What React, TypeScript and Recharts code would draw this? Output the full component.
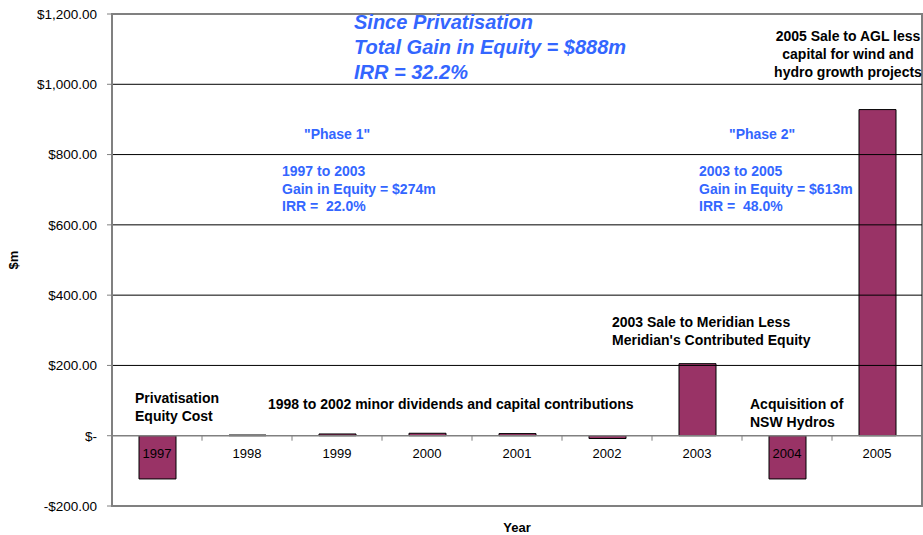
import { BarChart, Bar, XAxis, YAxis, ReferenceLine, ReferenceArea, ReferenceDot } from "recharts";

const years = ["1997", "1998", "1999", "2000", "2001", "2002", "2003", "2004", "2005"];
const equityFlows = [-123, 2, 5, 7, 6, -8, 205, -123, 928];
const yTicks = [-200, 0, 200, 400, 600, 800, 1000, 1200];
const gridValues = [200, 400, 600, 800, 1000];

const rows = years.map((year, i) => ({ year, value: equityFlows[i] }));

const BLUE = "#3366ff";
const FONT = "'Liberation Sans', Arial, sans-serif";

function asMoney(v: number) {
  if (v === 0) return "$-";
  const s = "$" + Math.abs(v).toLocaleString("en-US", { minimumFractionDigits: 2, maximumFractionDigits: 2 });
  return v < 0 ? "-" + s : s;
}

const note = (left: number, top: number, lines: string[], extra: React.CSSProperties = {}) => (
  <div
    style={{
      position: "absolute",
      left,
      top,
      fontFamily: FONT,
      fontWeight: 700,
      fontSize: 14,
      lineHeight: "18px",
      whiteSpace: "nowrap",
      color: "#000",
      ...extra,
    }}
  >
    {lines.map((l) => (
      <div key={l}>{l}</div>
    ))}
  </div>
);

export default function App() {
  return (
    <div style={{ position: "absolute", left: 0, top: 0, width: 923, height: 535, overflow: "hidden", background: "#fff" }}>
      <BarChart width={923} height={535} data={rows} margin={{ top: 14, right: 1, bottom: 29, left: 0 }} style={{ fontFamily: FONT }}>
        <XAxis dataKey="year" hide />
        <YAxis
          domain={[-200, 1200]}
          ticks={yTicks}
          interval={0}
          width={112}
          tickFormatter={asMoney}
          tick={{ fill: "#000", fontSize: 13.5 }}
          tickSize={5}
          tickMargin={10}
          axisLine={{ stroke: "#808080", strokeWidth: 2 }}
          tickLine={{ stroke: "#808080" }}
        />
        {gridValues.map((v) => (
          <ReferenceLine key={v} y={v} stroke="#000" strokeWidth={1} />
        ))}
        <ReferenceArea y1={-200} y2={1200} fill="none" stroke="#808080" strokeWidth={2} ifOverflow="visible" />
        <Bar dataKey="value" fill="#993366" stroke="#000" strokeWidth={1} barSize={37} isAnimationActive={false} />
        <ReferenceLine y={0} stroke="#808080" strokeWidth={1.5} />
        {years.map((year, i) => (
          <ReferenceDot
            key={year}
            x={year}
            y={0}
            r={0}
            shape={(p: any) => (
              <g>
                {i > 0 && <line x1={p.cx - 45} x2={p.cx - 45} y1={p.cy} y2={p.cy + 5} stroke="#808080" />}
                <text x={p.cx} y={p.cy + 22} textAnchor="middle" fontSize={13} fill="#000" fontFamily={FONT}>
                  {year}
                </text>
              </g>
            )}
          />
        ))}
      </BarChart>

      <div
        style={{
          position: "absolute",
          left: 14 - 20,
          top: 260 - 9,
          width: 40,
          textAlign: "center",
          transform: "rotate(-90deg)",
          fontFamily: FONT,
          fontWeight: 700,
          fontSize: 13,
          lineHeight: "18px",
        }}
      >
        $m
      </div>
      <div
        style={{
          position: "absolute",
          left: 517 - 50,
          top: 519,
          width: 100,
          textAlign: "center",
          fontFamily: FONT,
          fontWeight: 700,
          fontSize: 13,
          lineHeight: "18px",
        }}
      >
        Year
      </div>

      {note(354, 10, ["Since Privatisation", "Total Gain in Equity = $888m", "IRR = 32.2%"], {
        color: BLUE,
        fontStyle: "italic",
        fontSize: 20,
        lineHeight: "25px",
      })}
      {note(304, 125, ['"Phase 1"'], { color: BLUE })}
      {note(282, 163, ["1997 to 2003", "Gain in Equity = $274m", "IRR =  22.0%"], { color: BLUE, lineHeight: "17.5px", whiteSpace: "pre" })}
      {note(729, 125, ['"Phase 2"'], { color: BLUE })}
      {note(699, 163, ["2003 to 2005", "Gain in Equity = $613m", "IRR =  48.0%"], { color: BLUE, lineHeight: "17.5px", whiteSpace: "pre" })}
      {note(748, 27, ["2005 Sale to AGL less", "capital for wind and", "hydro growth projects"], { width: 200, textAlign: "center" })}
      {note(612, 313, ["2003 Sale to Meridian Less", "Meridian's Contributed Equity"])}
      {note(135, 389, ["Privatisation", "Equity Cost"])}
      {note(268, 395, ["1998 to 2002 minor dividends and capital contributions"])}
      {note(750, 395, ["Acquisition of", "NSW Hydros"])}
    </div>
  );
}
